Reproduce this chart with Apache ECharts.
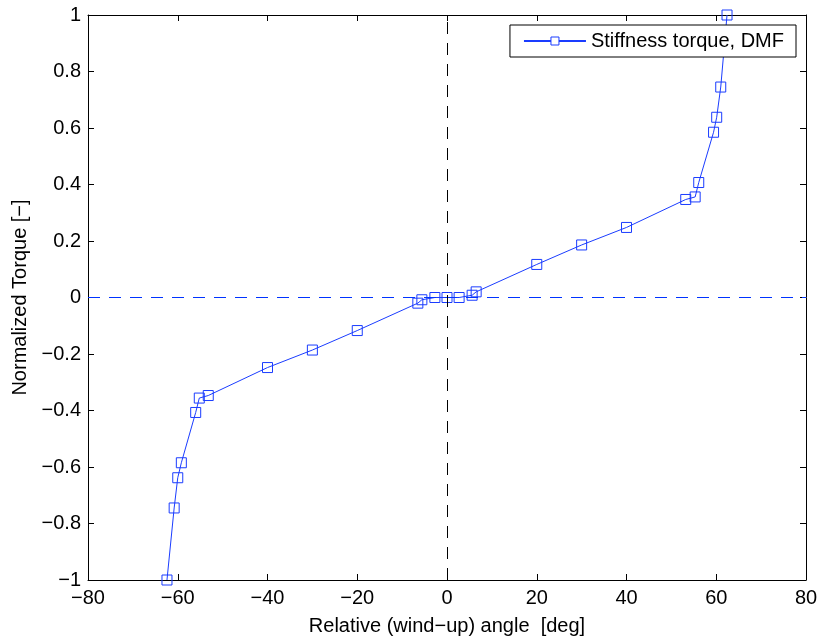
<!DOCTYPE html>
<html>
<head>
<meta charset="utf-8">
<script src="https://cdn.jsdelivr.net/npm/echarts@6/dist/echarts.min.js"></script>
<style>html,body{margin:0;padding:0;background:#fff}#c{width:821px;height:641px}</style>
</head>
<body>
<div id="c"></div>
<script>
const angleDeg = [-62.4, -60.8, -60.0, -59.2, -56.0, -55.2, -53.2, -40, -30, -20, -6.5, -5.6, -2.7, 0, 2.7, 5.6, 6.5, 20, 30, 40, 53.2, 55.3, 56.1, 59.4, 60.1, 61.0, 62.4];
const torque = [-1, -0.745, -0.638, -0.585, -0.407, -0.356, -0.347, -0.248, -0.186, -0.117, -0.02, -0.008, 0, 0, 0, 0.008, 0.02, 0.117, 0.186, 0.248, 0.347, 0.356, 0.407, 0.585, 0.638, 0.745, 1];
const seriesName = 'Stiffness torque, DMF';
const xTicks = [-80, -60, -40, -20, 0, 20, 40, 60, 80];
const yTicks = [-1, -0.8, -0.6, -0.4, -0.2, 0, 0.2, 0.4, 0.6, 0.8, 1];

const FONT = 'Liberation Sans, Arial, Helvetica, sans-serif';
const FS = 20;
const BLUE = '#1a3cff';
const chart = echarts.init(document.getElementById('c'), null, {renderer: 'canvas'});
const axisCommon = {
  axisLine: {show: true, onZero: false, lineStyle: {color: '#000', width: 1}},
  axisTick: {show: true, inside: true, length: 6, lineStyle: {color: '#000'}},
  splitLine: {show: false}
};
const fmt = v => (v < 0 ? '\u2212' + String(-v) : String(v));
chart.setOption({
  animation: false,
  grid: {left: 88, right: 15, top: 15, bottom: 59},
  textStyle: {fontFamily: FONT},
  legend: {
    data: [seriesName],
    right: 25, top: 25,
    orient: 'horizontal',
    backgroundColor: '#fff',
    borderColor: '#000', borderWidth: 1, borderRadius: 0,
    padding: [6, 12, 6, 13],
    itemWidth: 62, itemHeight: 10, itemGap: 8,
    itemStyle: {color: '#fff', borderColor: BLUE, borderWidth: 1},
    textStyle: {fontFamily: FONT, fontSize: FS, color: '#000'}
  },
  xAxis: [
    Object.assign({type: 'value', min: xTicks[0], max: xTicks[xTicks.length - 1], interval: 20, position: 'bottom',
      name: 'Relative (wind\u2212up) angle  [deg]', nameLocation: 'middle', nameGap: 36,
      nameTextStyle: {fontFamily: FONT, fontSize: FS, color: '#000'},
      axisLabel: {fontFamily: FONT, fontSize: FS, color: '#000', margin: 8, formatter: fmt}}, axisCommon),
    Object.assign({type: 'value', min: xTicks[0], max: xTicks[xTicks.length - 1], interval: 20, position: 'top',
      axisLabel: {show: false}}, axisCommon)
  ],
  yAxis: [
    Object.assign({type: 'value', min: yTicks[0], max: yTicks[yTicks.length - 1], interval: 0.2, position: 'left',
      name: 'Normalized Torque [\u2212]', nameLocation: 'middle', nameGap: 58,
      nameTextStyle: {fontFamily: FONT, fontSize: FS, color: '#000'},
      axisLabel: {fontFamily: FONT, fontSize: FS, color: '#000', margin: 7,
        formatter: v => fmt(Math.round(v * 10) / 10)}}, axisCommon),
    Object.assign({type: 'value', min: yTicks[0], max: yTicks[yTicks.length - 1], interval: 0.2, position: 'right',
      axisLabel: {show: false}}, axisCommon)
  ],
  series: [{
    name: seriesName,
    type: 'line',
    xAxisIndex: 0, yAxisIndex: 0,
    data: angleDeg.map((a, i) => [a, torque[i]]),
    symbol: 'rect',
    symbolSize: 10,
    itemStyle: {color: 'rgba(255,255,255,0)', borderColor: BLUE, borderWidth: 1},
    lineStyle: {color: BLUE, width: 1},
    color: BLUE,
    markLine: {
      silent: true, symbol: 'none', label: {show: false},
      lineStyle: {color: '#0033ff', type: [12, 9], width: 1.2, opacity: 1},
      emphasis: {disabled: true},
      data: [
        {yAxis: 0, lineStyle: {color: '#0033ff', type: [12, 9], width: 1.2}},
        {xAxis: 0, lineStyle: {color: '#000', type: [12, 9], width: 1}}
      ]
    },
    z: 3
  }]
});
</script>
</body>
</html>
